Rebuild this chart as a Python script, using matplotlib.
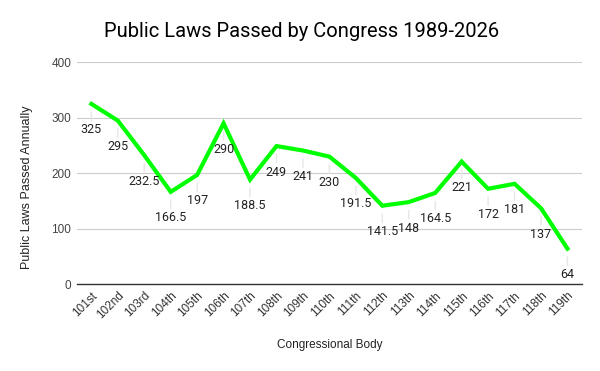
import matplotlib
matplotlib.use("Agg")
import matplotlib.pyplot as plt

congresses = ["101st", "102nd", "103rd", "104th", "105th", "106th", "107th",
              "108th", "109th", "110th", "111th", "112th", "113th", "114th",
              "115th", "116th", "117th", "118th", "119th"]
laws = [325, 295, 232.5, 166.5, 197, 290, 188.5, 249, 241, 230, 191.5,
        141.5, 148, 164.5, 221, 172, 181, 137, 64]
label_text = ["325", "295", "232.5", "166.5", "197", "290", "188.5", "249",
              "241", "230", "191.5", "141.5", "148", "164.5", "221", "172",
              "181", "137", "64"]
y_ticks = [0, 100, 200, 300, 400]

plt.rcParams["font.family"] = ["Roboto", "DejaVu Sans"]

W, H = 600, 371
fig = plt.figure(figsize=(W / 100, H / 100), dpi=100)
ax = fig.add_axes([0.128, 0.234, 0.842, 0.598])

x = list(range(len(congresses)))
ax.plot(x, laws, color="#00ff00", linewidth=3, solid_joinstyle="miter", zorder=3)

# data labels under each point with a faint leader line
for xi, yi, txt in zip(x, laws, label_text):
    ax.annotate(txt, xy=(xi, yi), xytext=(0, -26), textcoords="offset pixels",
                ha="center", va="center", fontsize=9, color="#222222",
                arrowprops=dict(arrowstyle="-", color="#e6e6e6", lw=1,
                                shrinkA=0, shrinkB=6),
                zorder=4)

ax.set_xlim(-0.55, 18.55)
ax.set_ylim(0, 400)
ax.set_yticks(y_ticks)
ax.set_xticks(x)
ax.set_xticklabels(congresses, rotation=45, ha="right", rotation_mode="anchor",
                   fontsize=8.5, color="#333333", family="Liberation Sans")
ax.tick_params(axis="y", labelsize=8.5, labelcolor="#444444", length=0, pad=4)
ax.tick_params(axis="x", length=0, pad=4)
for lbl in ax.get_yticklabels():
    lbl.set_family("Liberation Sans")

ax.grid(axis="y", color="#cccccc", linewidth=0.8)
ax.set_axisbelow(True)
for side in ["top", "right", "left"]:
    ax.spines[side].set_visible(False)
ax.spines["bottom"].set_color("#333333")
ax.spines["bottom"].set_linewidth(1)

fig.text(27 / W, 1 - 187 / H, "Public Laws Passed Annually", rotation=90,
         ha="center", va="center", fontsize=9, color="#222222",
         family="Liberation Sans")
fig.text(330 / W, 1 - 345 / H, "Congressional Body", ha="center", va="center",
         fontsize=8.5, color="#222222", family="Liberation Sans")

fig.text(0.502, 0.915, "Public Laws Passed by Congress 1989-2026",
         ha="center", va="center", fontsize=14.5, color="#000000")

fig.savefig("out.png", dpi=100)
